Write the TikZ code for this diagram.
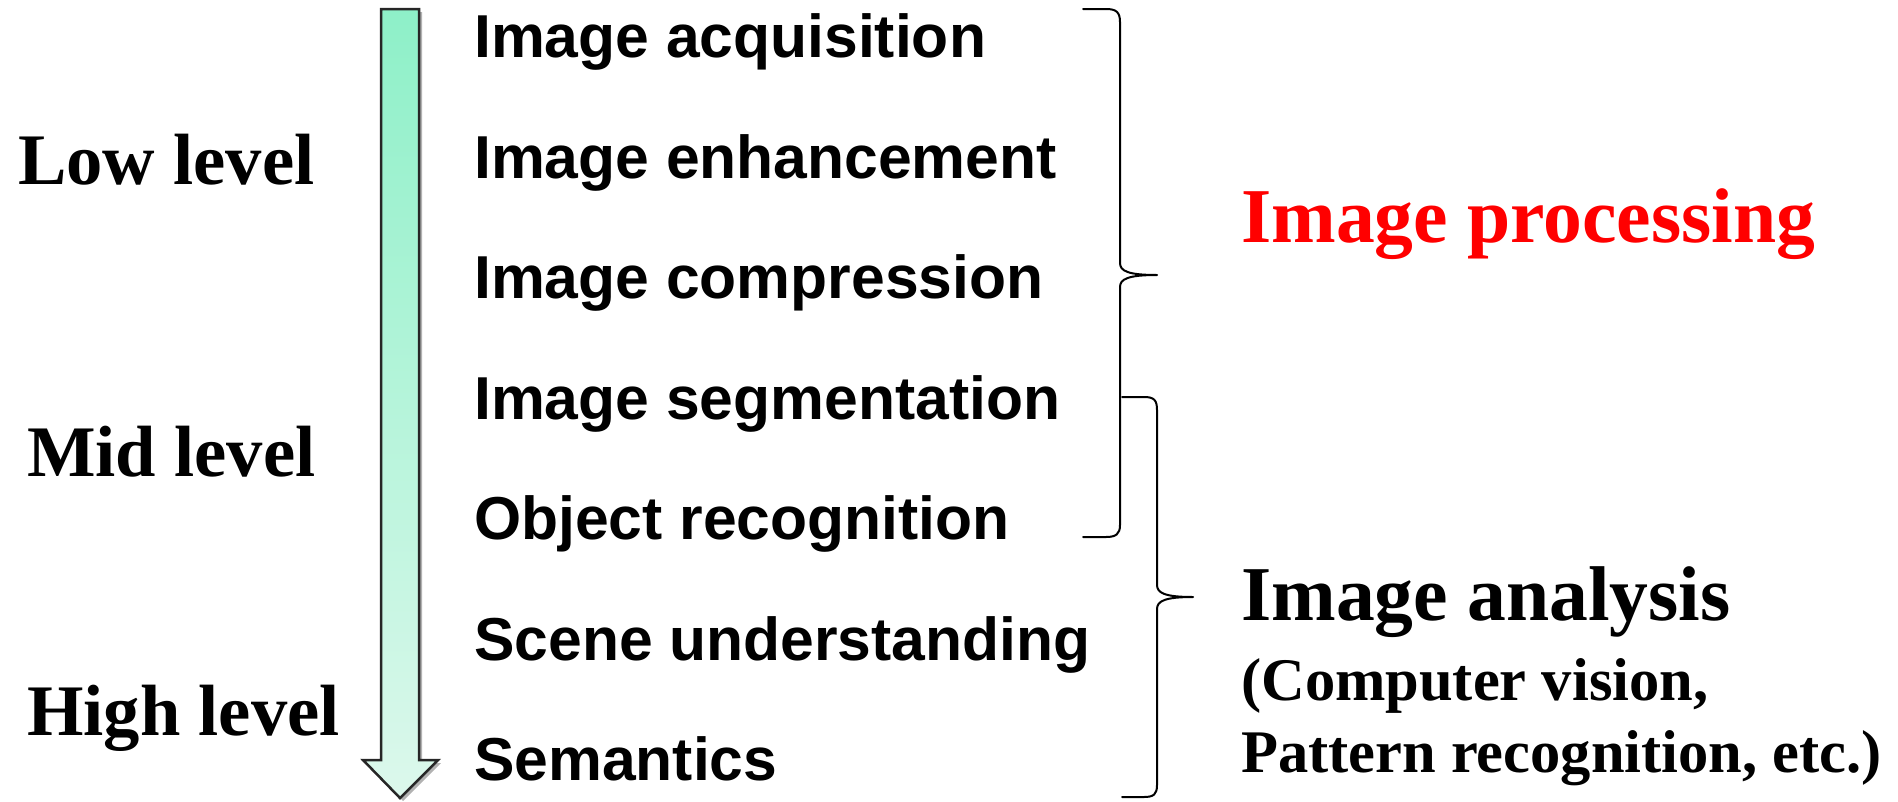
\documentclass[tikz,border=0pt]{standalone}
\usepackage{fontspec}
\setmainfont{Liberation Serif}
\setsansfont{Liberation Sans}
\definecolor{mintTop}{HTML}{8EF0C8}
\definecolor{mintBot}{HTML}{DCF8EC}
\definecolor{procred}{HTML}{FF0000}
\begin{document}
\begin{tikzpicture}[x=1pt,y=-1pt,
  proc/.style={anchor=base west, inner sep=0pt, font=\sffamily\bfseries\fontsize{60.6}{60.6}\selectfont},
  lvl/.style={anchor=base west, inner sep=0pt, font=\rmfamily\bfseries\fontsize{72.6}{72.6}\selectfont},
  big/.style={anchor=base west, inner sep=0pt, font=\rmfamily\bfseries\fontsize{77.6}{77.6}\selectfont},
  small/.style={anchor=base west, inner sep=0pt, font=\rmfamily\bfseries\fontsize{60.5}{60.5}\selectfont},
  bracepath/.style={draw=black, line width=2pt, line cap=round, line join=round}]
\useasboundingbox (0,0) rectangle (1898,801);
% arrow shadow
\fill[black!30] (384,12) -- (422,12) -- (422,763) -- (441,763) -- (403,801) -- (366,763) -- (384,763) -- cycle;
% arrow
\shade[top color=mintTop, bottom color=mintBot] (381,9) -- (419,9) -- (419,760) -- (438,760) -- (400,798) -- (363,760) -- (381,760) -- cycle;
\draw[line width=2.5pt, line join=miter, draw=black!85] (381,9) -- (419,9) -- (419,760) -- (438,760) -- (400,798) -- (363,760) -- (381,760) -- cycle;
% process steps
\node[proc] (s1) at (474,57) {Image acquisition};
\node[proc] (s2) at (474,178) {Image enhancement};
\node[proc] (s3) at (474,298) {Image compression};
\node[proc] (s4) at (474,419) {Image segmentation};
\node[proc] (s5) at (474,539) {Object recognition};
\node[proc] (s6) at (474,660) {Scene understanding};
\node[proc] (s7) at (474,780) {Semantics};
% levels
\node[lvl] (low) at (18,184) {Low level};
\node[lvl] (mid) at (27,476) {Mid level};
\node[lvl] (high) at (27,735) {High level};
% braces
\draw[bracepath] (1083,9) -- (1106,9) .. controls (1116,9) and (1120,12) .. (1120,22) -- (1120,263) .. controls (1120,271) and (1128,275) .. (1157,275) .. controls (1128,275) and (1120,279) .. (1120,287) -- (1120,525) .. controls (1120,534) and (1116,537) .. (1106,537) -- (1083,537);
\draw[bracepath] (1122,397) -- (1144,397) .. controls (1154,397) and (1157,400) .. (1157,410) -- (1157,585) .. controls (1157,593) and (1165,597) .. (1193,597) .. controls (1165,597) and (1157,601) .. (1157,609) -- (1157,785) .. controls (1157,794) and (1154,797) .. (1144,797) -- (1122,797);
% right labels
\node[big, text=procred] (ip) at (1241,242) {Image processing};
\node[big] (ia) at (1241,620) {Image analysis};
\node[small] (cv) at (1241,700) {(Computer vision,};
\node[small] (pr) at (1241,772) {Pattern recognition, etc.)};
\end{tikzpicture}
\end{document}
